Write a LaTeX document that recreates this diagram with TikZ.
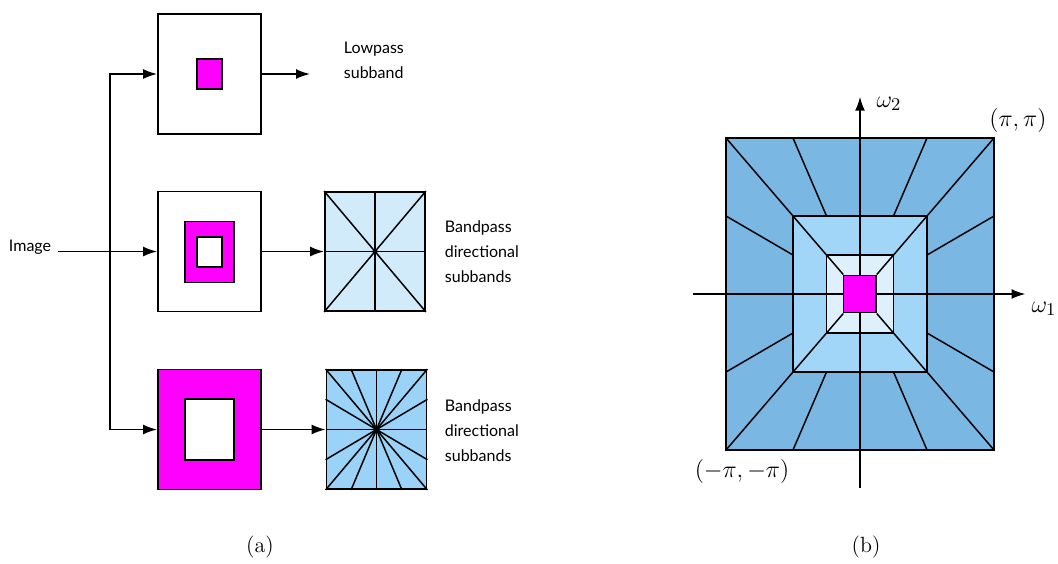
\documentclass[tikz,border=0pt]{standalone}
\usepackage{fontspec}
\usetikzlibrary{arrows.meta,calc}
\newfontfamily\lblfont{Lato}
\definecolor{magband}{HTML}{FF00FF}
\definecolor{outerblue}{HTML}{7AB8E3}
\definecolor{midblue}{HTML}{A2D6F9}
\definecolor{innerblue}{HTML}{DDF0FC}
\definecolor{dirlight}{HTML}{D2EBFB}
\definecolor{dirdark}{HTML}{9BD3F8}

\begin{document}
\begin{tikzpicture}[x=0.5pt,y=-0.5pt,
      >={Latex[length=7pt,width=5pt]},
      line width=0.9pt,
      box/.style={draw,rectangle,inner sep=0pt,minimum width=51.5pt,minimum height=60pt},
      dirbox/.style={draw,rectangle,inner sep=0pt,minimum width=50pt,minimum height=59.5pt},
      patch/.style={draw,rectangle,inner sep=0pt},
      ray/.style={line width=0.75pt},
      lbl/.style={font=\lblfont\fontsize{8}{12.5}\selectfont,align=left,anchor=west,inner xsep=0pt},
      mlbl/.style={font=\fontsize{12}{14}\selectfont},
      captxt/.style={font=\fontsize{11}{13}\selectfont}]
    \useasboundingbox[fill=white] (0,0) rectangle (1058,563);
    % (a) filter bank
    \node[box] (lp) at (209.5,74) {};
    \node[patch,fill=magband,minimum width=12.5pt,minimum height=15pt] (lpmag) at (209.5,74) {};
    \node[box] (bp1) at (209.5,251.5) {};
    \node[patch,fill=magband,minimum width=24.5pt,minimum height=30.5pt] (ring) at (209.5,252) {};
    \node[patch,fill=white,minimum width=12.5pt,minimum height=15pt] (ringhole) at (209.5,252) {};
    \node[box,fill=magband] (bp2) at (209.5,429.5) {};
    \node[patch,fill=white,minimum width=24.5pt,minimum height=30.5pt] (bp2hole) at (209.5,429.5) {};
    \node[dirbox,fill=dirlight] (d1) at (375,251.5) {};
    \node[dirbox,fill=dirdark] (d2) at (376.5,429.5) {};
    \foreach \t in {0,0.5,1}
      \draw[ray] ($(d1.north west)!\t!(d1.north east)$) -- ($(d1.south east)!\t!(d1.south west)$);
    \draw[ray] (d1.west) -- (d1.east);
    \foreach \t in {0,0.25,0.5,0.75,1}
      \draw[ray] ($(d2.north west)!\t!(d2.north east)$) -- ($(d2.south east)!\t!(d2.south west)$);
    \foreach \t in {0.25,0.5,0.75}
      \draw[ray] ($(d2.north west)!\t!(d2.south west)$) -- ($(d2.south east)!\t!(d2.north east)$);
    \fill (d1.center) circle (1.3pt);
    \fill (d2.center) circle (1.6pt);

    \node[lbl,anchor=base east,inner xsep=3pt] (img) at (58,251) {Image};
    \coordinate (fork) at (110,252);
    \coordinate (lpout) at (310,74);
    \draw[->] (img.east |- bp1.west) -- (bp1.west);
    \draw[->] (fork) |- (lp.west);
    \draw[->] (fork) |- (bp2.west);
    \draw[->] (lp.east) -- (lpout);
    \draw[->] (bp1.east) -- (d1.west);
    \draw[->] (bp2.east) -- (d2.west);

    \node[lbl] (lplbl) at (343,60.5) {Lowpass\\subband};
    \node[lbl] (bp1lbl) at (444,252) {Bandpass\\directional\\subbands};
    \node[lbl] (bp2lbl) at (444,430.5) {Bandpass\\directional\\subbands};
    \node[captxt] (capa) at (260,547) {(a)};

    % (b) frequency partition
    \begin{scope}[shift={(860,294)},x=67pt,y=78pt,line width=0.75pt]
      \filldraw[fill=outerblue] (-1,-1) rectangle (1,1);
      \filldraw[fill=midblue] (-.5,-.5) rectangle (.5,.5);
      \filldraw[fill=innerblue] (-.25,-.25) rectangle (.25,.25);
      \foreach \sx in {-1,1}
        \foreach \sy in {-1,1} {
          \draw (\sx,\sy) -- (\sx*.5,\sy*.5);
          \draw (\sx*.5,\sy*.5) -- (\sx*.25,\sy*.25);
          \draw (\sx*.25,\sy*.25) -- (\sx*.125,\sy*.125);
          \draw (\sx*.5,\sy) -- (\sx*.25,\sy*.5);
          \draw (\sx,\sy*.5) -- (\sx*.5,\sy*.25);
        }
      \draw[->,line width=0.9pt] (-1.246,0) -- (1.235,0);
      \draw[->,line width=0.9pt] (0,-1.244) -- (0,1.265);
      \filldraw[fill=magband] (-.125,-.12) rectangle (.12,.12);
    \end{scope}
    \node[mlbl,font=\fontsize{13}{15}\selectfont] (w2) at (889,104) {$\omega_2$};
    \node[mlbl,font=\fontsize{13}{15}\selectfont] (w1) at (1044,309) {$\omega_1$};
    \node[mlbl] (pp) at (1018,120) {$(\pi,\pi)$};
    \node[mlbl] (mm) at (742,471) {$(-\pi,-\pi)$};
    \node[captxt] (capb) at (866,547) {(b)};
  \end{tikzpicture}
\end{document}
